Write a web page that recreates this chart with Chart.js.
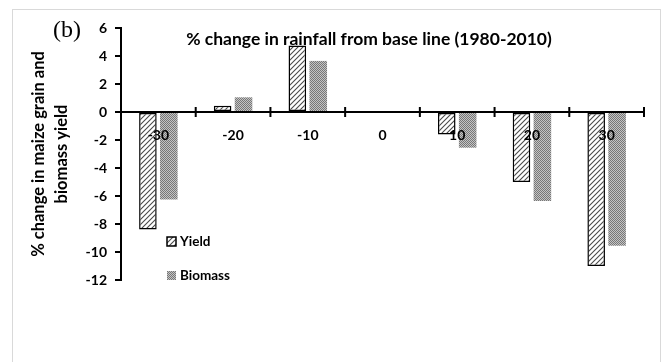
<!DOCTYPE html>
<html>
<head>
<meta charset="utf-8">
<script src="https://cdn.jsdelivr.net/npm/chart.js@4/dist/chart.umd.min.js"></script>
<style>
    html, body { margin: 0; padding: 0; background: #fff; }
    #wrap { position: relative; width: 665px; height: 362px; overflow: hidden; }
    #frame { position: absolute; left: 12px; top: 9px; width: 647px; height: 400px; border: 1px solid #d9d9d9; }
    #chart { position: absolute; left: 0; top: 0; }
</style>
</head>
<body>
<div id="wrap">
    <div id="frame"></div>
    <canvas id="chart" width="665" height="362"></canvas>
</div>
<script>
const categories = ['-30', '-20', '-10', '0', '10', '20', '30'];
const yieldValues = [-8.4, 0.45, 4.75, 0, -1.6, -5.0, -11.0];
const biomassValues = [-6.25, 1.05, 3.65, 0, -2.55, -6.35, -9.55];
const yTicks = [6, 4, 2, 0, -2, -4, -6, -8, -10, -12];

const canvas = document.getElementById('chart');
const ctx = canvas.getContext('2d');
const font = 'Lato, "Open Sans", sans-serif';

function hatchPattern() {
    const c = document.createElement('canvas');
    c.width = 5; c.height = 5;
    const g = c.getContext('2d');
    g.fillStyle = '#fff';
    g.fillRect(0, 0, 5, 5);
    g.strokeStyle = '#4a4a4a';
    g.lineWidth = 1.1;
    g.beginPath();
    g.moveTo(-1, 6); g.lineTo(6, -1);
    g.moveTo(-1, 1); g.lineTo(1, -1);
    g.moveTo(4, 6); g.lineTo(6, 4);
    g.stroke();
    return ctx.createPattern(c, 'repeat');
}

function dotPattern() {
    const c = document.createElement('canvas');
    c.width = 2; c.height = 2;
    const g = c.getContext('2d');
    g.fillStyle = '#c4c4c4';
    g.fillRect(0, 0, 2, 2);
    g.fillStyle = '#777';
    g.fillRect(0, 0, 1, 1);
    g.fillRect(1, 1, 1, 1);
    return ctx.createPattern(c, 'repeat');
}

const extras = {
    id: 'extras',
    afterDraw(chart) {
        const c = chart.ctx;
        const x = chart.scales.x;
        const y = chart.scales.y;
        const y0 = y.getPixelForValue(0);
        c.save();
        // ticks crossing the x axis at category edges
        c.strokeStyle = '#000';
        c.lineWidth = 2;
        c.beginPath();
        for (let i = 0; i <= categories.length; i++) {
            const px = x.left + (x.right - x.left) * i / categories.length;
            c.moveTo(px, y0 - 5);
            c.lineTo(px, y0 + 5);
        }
        c.stroke();

        // chart title over the plot
        c.fillStyle = '#000';
        c.font = 'bold 17.5px ' + font;
        c.textAlign = 'center';
        c.textBaseline = 'middle';
        c.fillText('% change in rainfall from base line (1980-2010)', chart.chartArea.left + 248, 39);

        // panel letter
        c.font = '24px "Liberation Serif", "DejaVu Serif", serif';
        c.textAlign = 'left';
        c.fillText('(b)', 53, 31);

        // legend
        const items = chart.data.datasets;
        const lx = chart.chartArea.left + 46;
        const ly = [241, 275];
        c.font = 'bold 13.5px ' + font;
        items.forEach((ds, i) => {
            c.fillStyle = ds.backgroundColor;
            c.fillRect(lx, ly[i] - 4, 9, 9);
            if (ds.borderWidth) {
                c.strokeStyle = '#000';
                c.lineWidth = 1.5;
                c.strokeRect(lx, ly[i] - 4, 9, 9);
            }
            c.fillStyle = '#000';
            c.textBaseline = 'middle';
            c.fillText(ds.label, lx + 13, ly[i] + 1);
        });
        c.restore();
    }
};

new Chart(ctx, {
    type: 'bar',
    data: {
        labels: categories,
        datasets: [{
            label: 'Yield',
            data: yieldValues,
            backgroundColor: hatchPattern(),
            borderColor: '#000',
            borderWidth: 1.5,
            borderSkipped: false
        }, {
            label: 'Biomass',
            data: biomassValues,
            backgroundColor: dotPattern(),
            borderWidth: 0
        }]
    },
    options: {
        responsive: false,
        animation: false,
        events: [],
        categoryPercentage: 0.56,
        barPercentage: 0.84,
        layout: { padding: { left: 20, right: 21, top: 28, bottom: 82 } },
        plugins: {
            legend: { display: false },
            tooltip: { enabled: false }
        },
        scales: {
            x: {
                position: { y: 0 },
                offset: true,
                grid: { display: false },
                border: { display: true, color: '#000', width: 2 },
                ticks: { z: 1, color: '#000', font: { family: font, size: 14, weight: 'bold' }, padding: 7, maxRotation: 0 }
            },
            y: {
                min: -12,
                max: 6,
                afterFit(scale) { scale.width = 101; },
                afterBuildTicks(scale) { scale.ticks = yTicks.map(v => ({ value: v })); },
                grid: { drawOnChartArea: false, color: '#000', lineWidth: 2, tickLength: 6 },
                border: { display: true, color: '#000', width: 2 },
                ticks: { color: '#000', font: { family: font, size: 14, weight: 'bold' }, padding: 8 },
                title: {
                    display: true,
                    text: ['% change in maize grain and', 'biomass yield'],
                    color: '#000',
                    font: { family: font, size: 16.5, weight: 'bold', lineHeight: 1.35 },
                    padding: { top: 8, bottom: 0 }
                }
            }
        }
    },
    plugins: [extras]
});
</script>
</body>
</html>
